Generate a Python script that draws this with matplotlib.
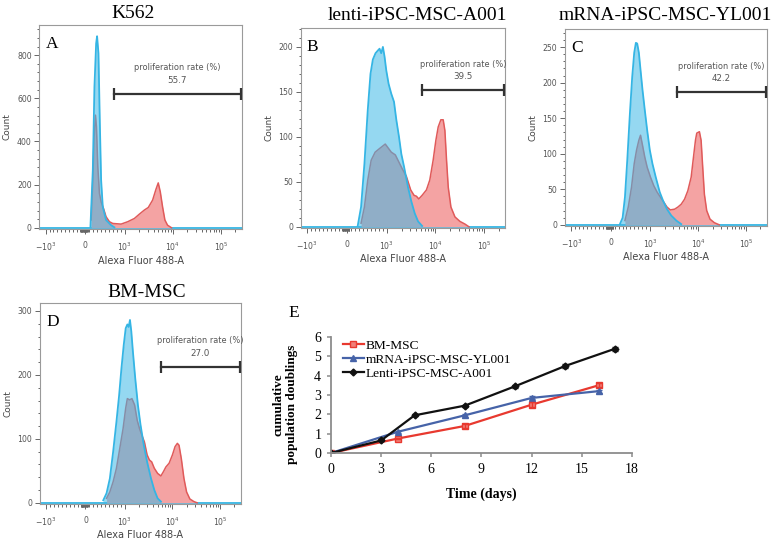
import numpy as np
import matplotlib.pyplot as plt
from matplotlib.ticker import FixedLocator, MultipleLocator

# flow histograms (Alexa Fluor 488-A value, count)
a_blue_x = [134, 194, 235, 278, 302, 337, 370, 404, 446, 529, 656, 740]
a_blue_y = [5, 267, 653, 854, 888, 808, 499, 221, 97, 36, 12, 2]
a_red_x = [151, 194, 227, 261, 286, 320, 362, 404, 463, 529, 614, 698, 909, 1156, 1588,
           2014, 2558, 3090, 3800, 4457, 4977, 5480, 6120, 6840, 7760, 9400]
a_red_y = [36, 221, 422, 522, 468, 283, 159, 120, 90, 51, 28, 20, 17, 28, 43,
           63, 82, 94, 128, 178, 208, 167, 97, 36, 12, 0]

b_blue_x = [269, 353, 437, 521, 589, 648, 715, 774, 816, 858, 900, 942, 984, 1084, 1230,
            1400, 1563, 1774, 1982, 2250, 2723, 3192, 3741, 4385, 5310]
b_blue_y = [1, 22, 70, 130, 170, 186, 193, 196, 198, 193, 200, 189, 174, 159, 148,
            139, 119, 100, 81, 67, 44, 28, 15, 6, 1]
b_red_x = [353, 437, 521, 606, 706, 816, 959, 1084, 1230, 1489, 1690, 2047, 2518, 3090, 3622,
           4055, 4529, 5310, 6516, 7638, 8955, 10180, 11380, 12910, 14420, 15630, 16900,
           18320, 20800, 25180, 31920, 40550, 48980]
b_red_y = [4, 22, 52, 74, 83, 87, 92, 87, 83, 80, 74, 65, 56, 41, 35,
           34, 31, 35, 41, 52, 74, 96, 111, 119, 119, 107, 74,
           44, 22, 11, 6, 3, 0]

c_blue_x = [235, 303, 362, 421, 488, 546, 597, 639, 673, 715, 757, 807, 866, 926, 993,
            1119, 1312, 1588, 1862, 2250, 2767, 3516, 4457]
c_blue_y = [1, 10, 39, 91, 157, 208, 242, 256, 255, 242, 218, 190, 161, 133, 105,
            86, 67, 46, 34, 22, 13, 6, 1]
c_red_x = [362, 446, 529, 597, 656, 715, 757, 807, 866, 926, 1019, 1194, 1400, 1637, 1919,
           2250, 2636, 3243, 3802, 4457, 5224, 6124, 7178, 8017, 8830, 9397, 10670, 11560,
           12500, 13550, 15140, 17740, 21830, 27670]
c_red_y = [6, 25, 53, 86, 105, 119, 126, 112, 95, 81, 67, 55, 46, 39, 32,
           25, 21, 22, 25, 29, 36, 48, 67, 95, 119, 129, 131, 119,
           81, 43, 20, 8, 3, 0]

d_blue_x = [454, 538, 622, 706, 790, 858, 917, 976, 1050, 1138, 1211, 1291, 1377, 1489, 1663,
            1892, 2148, 2518, 2951, 3565, 4178, 4898, 5741]
d_blue_y = [4, 15, 38, 80, 127, 168, 210, 247, 273, 279, 275, 286, 268, 236, 195,
            153, 122, 90, 64, 38, 20, 7, 2]
d_red_x = [538, 622, 706, 790, 875, 959, 1050, 1138, 1271, 1419, 1614, 1832, 2047, 2286, 2594,
           2951, 3296, 3681, 4178, 4898, 5741, 6516, 7295, 8551, 10020, 11380, 12710, 13770,
           15380, 17460, 19820, 23230, 28120, 32960]
d_red_y = [7, 17, 33, 54, 85, 116, 148, 163, 161, 163, 153, 129, 116, 106, 95,
           75, 67, 64, 54, 46, 42, 49, 56, 62, 75, 88, 93, 90,
           69, 38, 17, 6, 2, 0]

titles = ['K562', 'lenti-iPSC-MSC-A001', 'mRNA-iPSC-MSC-YL001', 'BM-MSC']
letters = ['A', 'B', 'C', 'D']
gate_start = [723, 5310, 3680, 5741]
gate_end = 262144
gate_y = [619, 152, 187, 213]
rates = ['55.7', '39.5', '42.2', '27.0']
y_top = [940, 221, 275, 312]
y_major = [200, 50, 50, 100]

# growth curve
days_bm = [0, 4, 8, 12, 16]
pd_bm = [0, 0.75, 1.4, 2.5, 3.5]
err_bm = [0, 0.05, 0.12, 0.12, 0.1]
days_mrna = [0, 4, 8, 12, 16]
pd_mrna = [0, 1.1, 1.95, 2.85, 3.2]
err_mrna = [0, 0.05, 0.08, 0.08, 0.08]
days_lenti = [0, 3, 5, 8, 11, 14, 17]
pd_lenti = [0, 0.65, 1.95, 2.45, 3.45, 4.5, 5.4]
err_lenti = [0, 0.05, 0.05, 0.05, 0.07, 0.12, 0.1]

serif = 'Liberation Serif'
blue_fill = '#3fb8e6'
blue_edge = '#35b5e4'
red_fill = '#f4a3a3'
red_edge = '#e05a5a'

fig = plt.figure(figsize=(7.78, 5.43), dpi=100)

boxes = [[0.0505, 0.5783, 0.2602, 0.3757],
         [0.3865, 0.5801, 0.2626, 0.3683],
         [0.7262, 0.5838, 0.2593, 0.3622],
         [0.0514, 0.0718, 0.2580, 0.3696]]
title_xy = [(0.171, 0.976), (0.536, 0.972), (0.855, 0.972), (0.188, 0.462)]

data = [(a_blue_x, a_blue_y, a_red_x, a_red_y),
        (b_blue_x, b_blue_y, b_red_x, b_red_y),
        (c_blue_x, c_blue_y, c_red_x, c_red_y),
        (d_blue_x, d_blue_y, d_red_x, d_red_y)]

lin_minor = list(range(-1000, 1001, 100)) + list(range(-120, 61, 10))
log_minor = [m * 10**k for k in range(3, 6) for m in range(2, 10) if m * 10**k < 2.7e5]

for i in range(4):
    bx, by, rx, ry = data[i]
    ax = fig.add_axes(boxes[i])
    ax.set_xscale('symlog', linthresh=1000, linscale=0.74)
    ax.axhline(0, color=blue_edge, lw=1.3, zorder=1)
    ax.fill_between(rx, ry, color=red_fill, lw=0, zorder=2)
    ax.plot(rx, ry, color=red_edge, lw=1.1, zorder=2)
    ax.fill_between(bx, by, color=blue_fill, alpha=0.55, lw=0, zorder=3)
    ax.plot(bx, by, color=blue_edge, lw=1.3, zorder=3)
    ax.set_xlim(-1350, 2.7e5)
    ax.set_ylim(-y_top[i] * 0.006, y_top[i])

    # gate bar and label
    ax.plot([gate_start[i], gate_end], [gate_y[i], gate_y[i]], color='#333333', lw=1.6,
            marker='|', markersize=8, mew=1.6, zorder=4)
    sc = ax.xaxis.get_transform()
    ends = sc.transform(np.array([[gate_start[i]], [gate_end]]))
    mid = sc.inverted().transform(np.array([[ends.mean()]]))[0, 0]
    ax.text(mid, gate_y[i] + y_top[i] * 0.131, 'proliferation rate (%)', ha='center',
            va='center', fontsize=5.9, color='#555555')
    ax.text(mid, gate_y[i] + y_top[i] * 0.067, rates[i], ha='center', va='center',
            fontsize=6.3, color='#555555')

    ax.text(0.03, 0.945, letters[i], transform=ax.transAxes, ha='left', va='top',
            fontsize=12.5, family=serif)
    fig.text(title_xy[i][0], title_xy[i][1], titles[i], ha='center', va='center',
             fontsize=14, family=serif)

    ax.set_xticks([-1000, 0, 1000, 10000, 100000])
    ax.set_xticklabels([r'$-10^3$', '0', r'$10^3$', r'$10^4$', r'$10^5$'])
    ax.xaxis.set_minor_locator(FixedLocator(lin_minor + log_minor))
    ax.yaxis.set_major_locator(MultipleLocator(y_major[i]))
    ax.yaxis.set_minor_locator(MultipleLocator(y_major[i] / 5))
    ax.tick_params(which='both', colors='#666666', labelcolor='#555555', labelsize=5.6,
                   width=0.7)
    ax.tick_params(which='major', length=3.5, pad=2)
    ax.tick_params(which='minor', length=1.8)
    ax.tick_params(axis='x', pad=5)
    for s in ax.spines.values():
        s.set_color('#9a9a9a')
        s.set_linewidth(0.8)
    ax.set_xlabel('Alexa Fluor 488-A', fontsize=7, color='#444444')
    ax.set_ylabel('Count', fontsize=6.5, color='#444444')
    ax.xaxis.set_label_coords(0.5, -0.13)
    ax.yaxis.set_label_coords(-0.135, 0.5)

# panel E
ax = fig.add_axes([0.4254, 0.1657, 0.3869, 0.2136])
ax.plot(days_bm, pd_bm, color='#e8392f', lw=1.6, marker='s', markersize=4,
        markerfacecolor='#f07f78', label='BM-MSC')
ax.plot(days_mrna, pd_mrna, color='#4663a8', lw=1.6, marker='^', markersize=4.5,
        label='mRNA-iPSC-MSC-YL001')
ax.plot(days_lenti, pd_lenti, color='#111111', lw=1.6, marker='D', markersize=3.5,
        label='Lenti-iPSC-MSC-A001')
ax.errorbar(days_bm, pd_bm, yerr=err_bm, fmt='none', ecolor='#e8392f', capsize=2, lw=1)
ax.errorbar(days_mrna, pd_mrna, yerr=err_mrna, fmt='none', ecolor='#4663a8', capsize=2, lw=1)
ax.errorbar(days_lenti, pd_lenti, yerr=err_lenti, fmt='none', ecolor='#111111', capsize=2, lw=1)
ax.set_xlim(0, 18)
ax.set_ylim(0, 6)
ax.set_xticks(range(0, 19, 3))
ax.set_yticks(range(0, 7))
ax.spines['top'].set_visible(False)
ax.spines['right'].set_visible(False)
for s in ['left', 'bottom']:
    ax.spines[s].set_color('#8c8c8c')
    ax.spines[s].set_linewidth(1.3)
ax.tick_params(colors='#8c8c8c', labelcolor='black', length=3, width=1.1, pad=4)
for lab in ax.get_xticklabels() + ax.get_yticklabels():
    lab.set_family(serif)
    lab.set_fontsize(10)
ax.set_xlabel('Time (days)', family=serif, fontsize=10, fontweight='bold')
ax.set_ylabel('cumulative\npopulation doublings', family=serif, fontsize=9.5,
              fontweight='bold', linespacing=1.1)
ax.xaxis.set_label_coords(0.5, -0.30)
ax.yaxis.set_label_coords(-0.11, 0.42)
ax.legend(loc='upper left', bbox_to_anchor=(0.03, 1.0), frameon=False,
          prop={'family': serif, 'size': 9.6}, handlelength=1.6, handletextpad=0.1,
          labelspacing=0.12, borderaxespad=0, borderpad=0.2)
fig.text(0.377, 0.424, 'E', ha='center', va='center', fontsize=12.5, family=serif)

plt.savefig('out.png', dpi=100)
